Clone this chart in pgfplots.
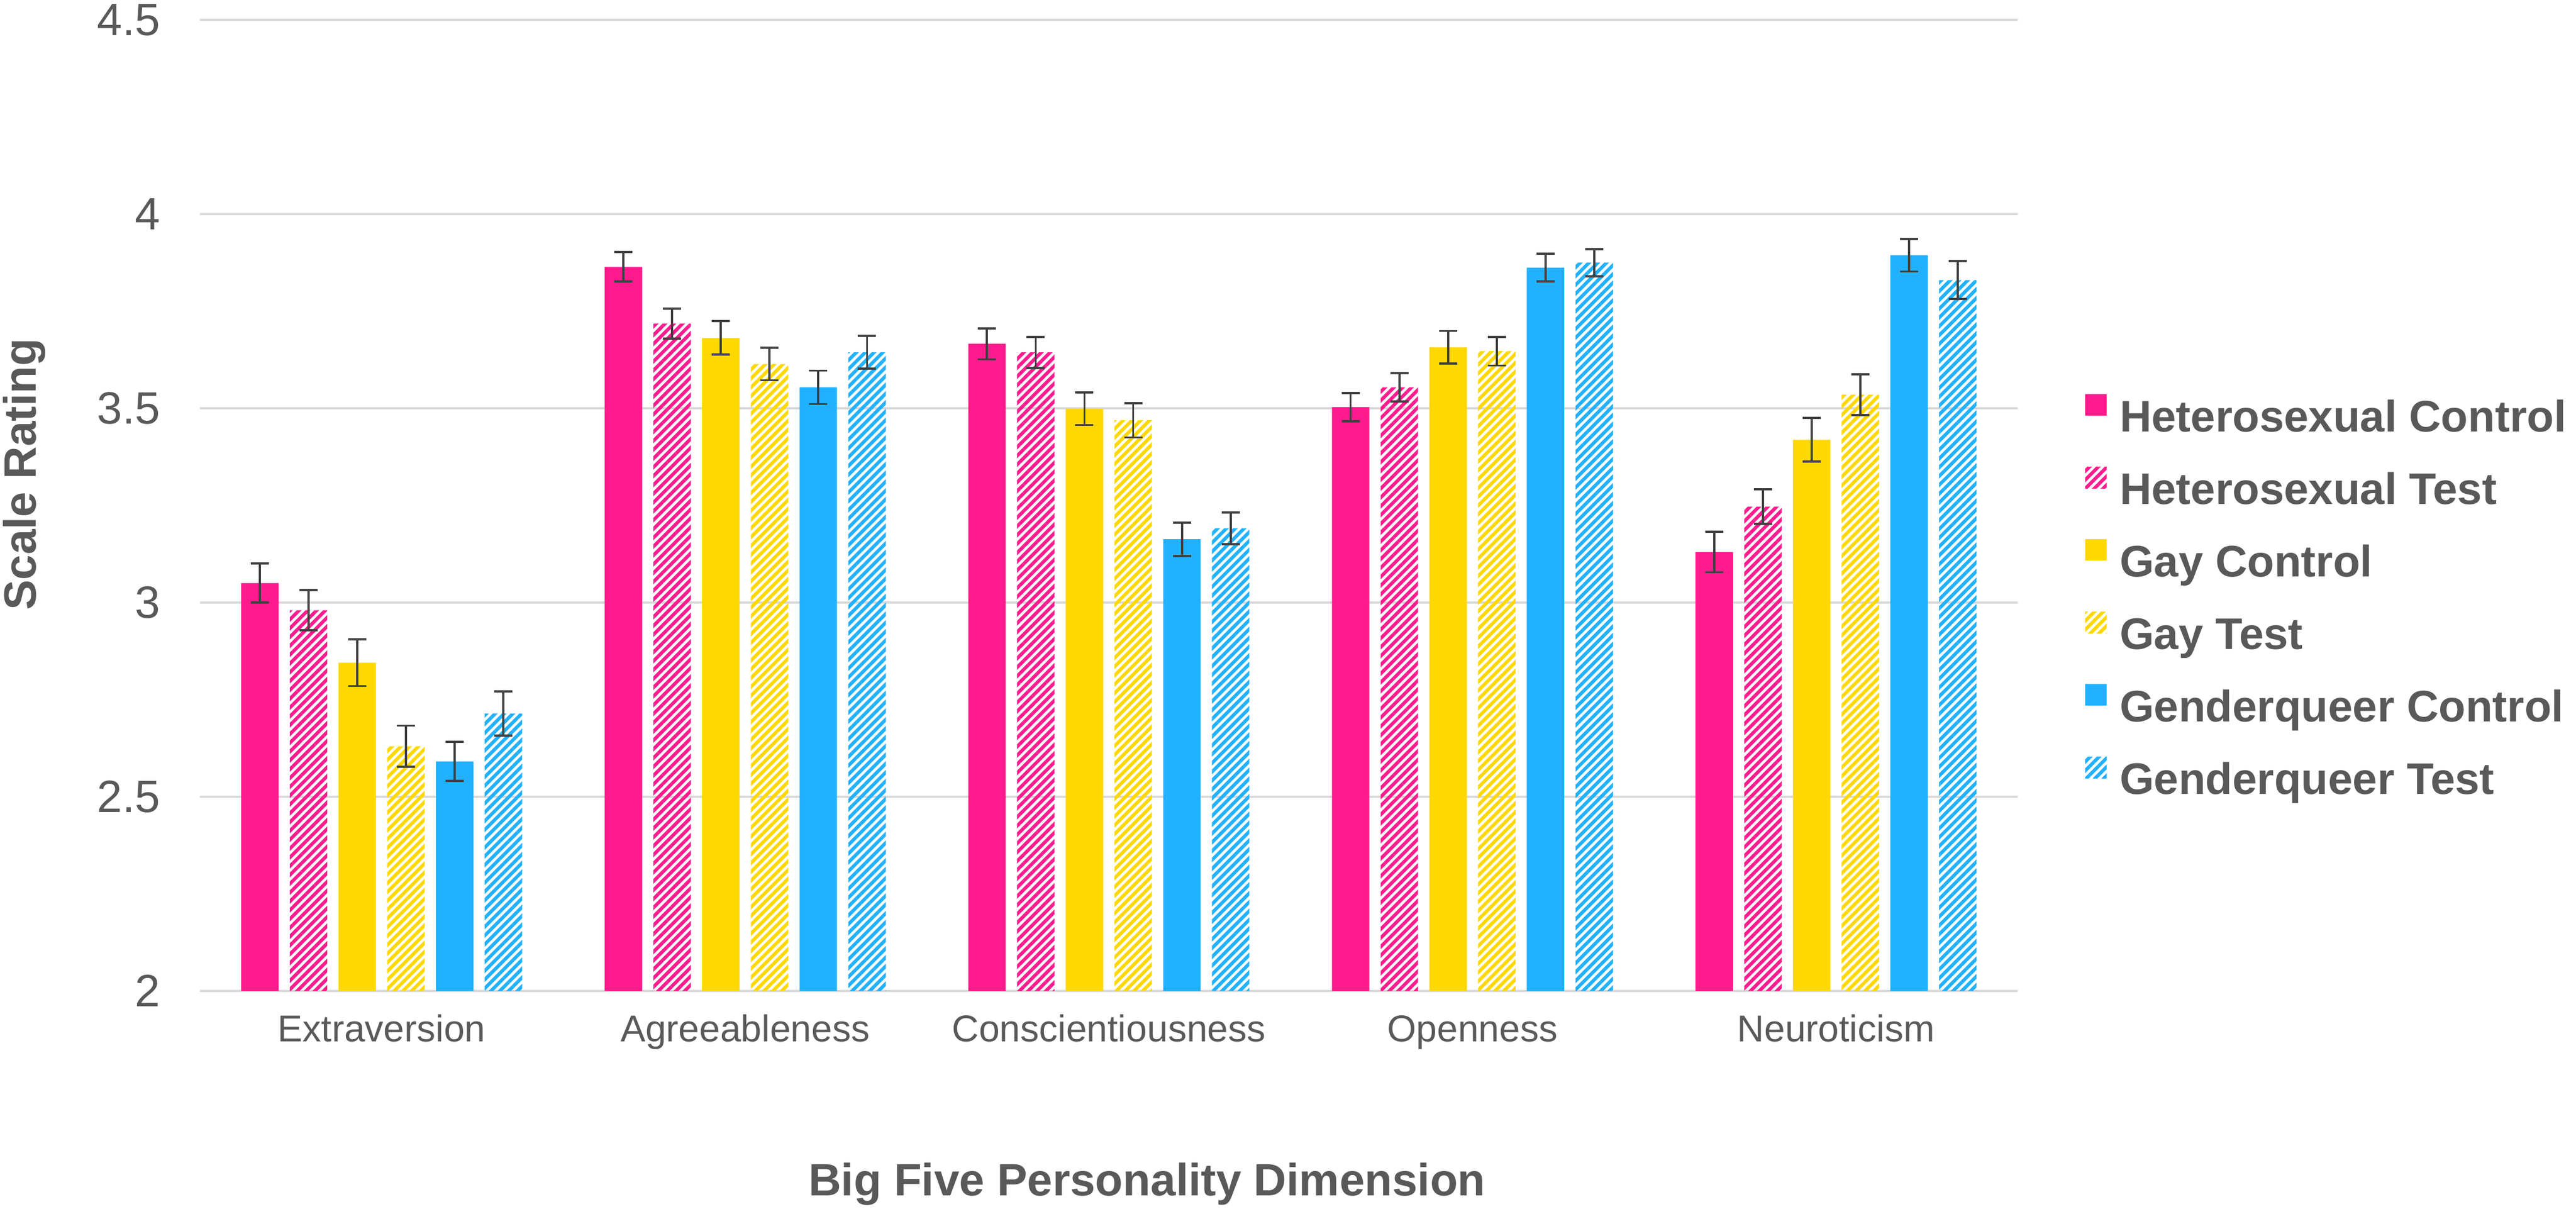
\documentclass[border=0pt]{standalone}
\usepackage{fontspec}
\setmainfont{Liberation Sans}
\usepackage{pgfplots}
\usepackage{pgfplotstable}
\pgfplotsset{compat=1.18}
\usetikzlibrary{patterns.meta}
\definecolor{cpink}{RGB}{255,27,141}
\definecolor{cyel}{RGB}{255,216,0}
\definecolor{cblue}{RGB}{33,177,255}
\definecolor{textgray}{RGB}{89,89,89}
\definecolor{errgray}{RGB}{64,64,64}
\definecolor{gridgray}{RGB}{217,217,217}

\pgfplotstableread{
x HC HCe HT HTe GC GCe GT GTe QC QCe QT QTe
0 3.050 0.050 2.980 0.052 2.845 0.060 2.630 0.053 2.591 0.050 2.714 0.057
1 3.864 0.038 3.718 0.039 3.681 0.043 3.614 0.042 3.554 0.043 3.644 0.042
2 3.666 0.040 3.644 0.040 3.499 0.042 3.469 0.044 3.163 0.043 3.191 0.041
3 3.503 0.036 3.554 0.036 3.657 0.042 3.647 0.037 3.862 0.036 3.875 0.035
4 3.130 0.052 3.247 0.044 3.419 0.056 3.535 0.053 3.894 0.042 3.830 0.049
}\datatable

\tikzset{hatch/.style={pattern={Lines[angle=45,distance=1.1pt,line width=0.6pt]}, pattern color=#1}}
\pgfplotsset{eb/.style={error bars/.cd, y dir=both, y explicit,
  error bar style={draw=errgray, line width=0.38pt, solid},
  error mark options={draw=errgray, rotate=90, mark size=1.6pt, line width=0.38pt, solid}}}

\begin{document}
\begin{tikzpicture}
\path[use as bounding box] (0,0) rectangle (455pt,213.5pt);
\begin{axis}[
  at={(35.3pt,38.5pt)}, anchor=south west,
  scale only axis, width=321.1pt, height=171.5pt,
  xmin=-0.5, xmax=4.5, ymin=2, ymax=4.5, enlargelimits=false,
  ybar, bar width=0.103,
  legend image code/.code={\fill[#1] (0pt,0.8pt) rectangle (3.8pt,4.6pt);},
  xtick={0,1,2,3,4},
  xticklabels={Extraversion,Agreeableness,Conscientiousness,Openness,Neuroticism},
  ytick={2,2.5,3,3.5,4,4.5},
  yticklabels={2,2.5,3,3.5,4,4.5},
  /pgf/number format/assume math mode=true,
  ymajorgrids, grid style={draw=gridgray, line width=0.33pt},
  axis line style={draw=none}, tick style={draw=none}, major tick length=0pt,
  xticklabel style={font=\fontsize{6.6}{7.9}\selectfont, text=textgray, anchor=base, inner sep=0pt, yshift=-8.95pt},
  yticklabel style={font=\fontsize{8}{9.6}\selectfont, text=textgray, anchor=east, inner sep=0pt, xshift=-6.8pt},
  xlabel={Big Five Personality Dimension},
  ylabel={Scale Rating},
  xlabel style={font=\bfseries\fontsize{8}{9.6}\selectfont, text=textgray, at={(axis description cs:0.521,-0.211)}, anchor=base, inner sep=0pt},
  ylabel style={font=\bfseries\fontsize{8}{9.6}\selectfont, text=textgray, at={(axis description cs:-0.0903,0.532)}, rotate=0, anchor=base, inner sep=0pt},
  legend cell align=left,
  legend style={draw=none, fill=none, at={(axis description cs:1.0371,0.404)}, anchor=west,
    font=\bfseries\fontsize{7.8}{9}\selectfont, text=textgray, inner sep=0pt, outer sep=0pt,
    row sep=4.6pt, nodes={inner sep=0pt, text height=5.6pt, text depth=1.6pt},
    /tikz/every odd column/.style={column sep=2.3pt}},
]
\addplot[draw=none, fill=cpink, bar shift=-0.335, eb] table[x=x, y=HC, y error=HCe] {\datatable};
\addlegendentry{Heterosexual Control}
\addplot[draw=none, hatch=cpink, bar shift=-0.201, eb] table[x=x, y=HT, y error=HTe] {\datatable};
\addlegendentry{Heterosexual Test}
\addplot[draw=none, fill=cyel, bar shift=-0.067, eb] table[x=x, y=GC, y error=GCe] {\datatable};
\addlegendentry{Gay Control}
\addplot[draw=none, hatch=cyel, bar shift=0.067, eb] table[x=x, y=GT, y error=GTe] {\datatable};
\addlegendentry{Gay Test}
\addplot[draw=none, fill=cblue, bar shift=0.201, eb] table[x=x, y=QC, y error=QCe] {\datatable};
\addlegendentry{Genderqueer Control}
\addplot[draw=none, hatch=cblue, bar shift=0.335, eb] table[x=x, y=QT, y error=QTe] {\datatable};
\addlegendentry{Genderqueer Test}
\end{axis}
\end{tikzpicture}
\end{document}
